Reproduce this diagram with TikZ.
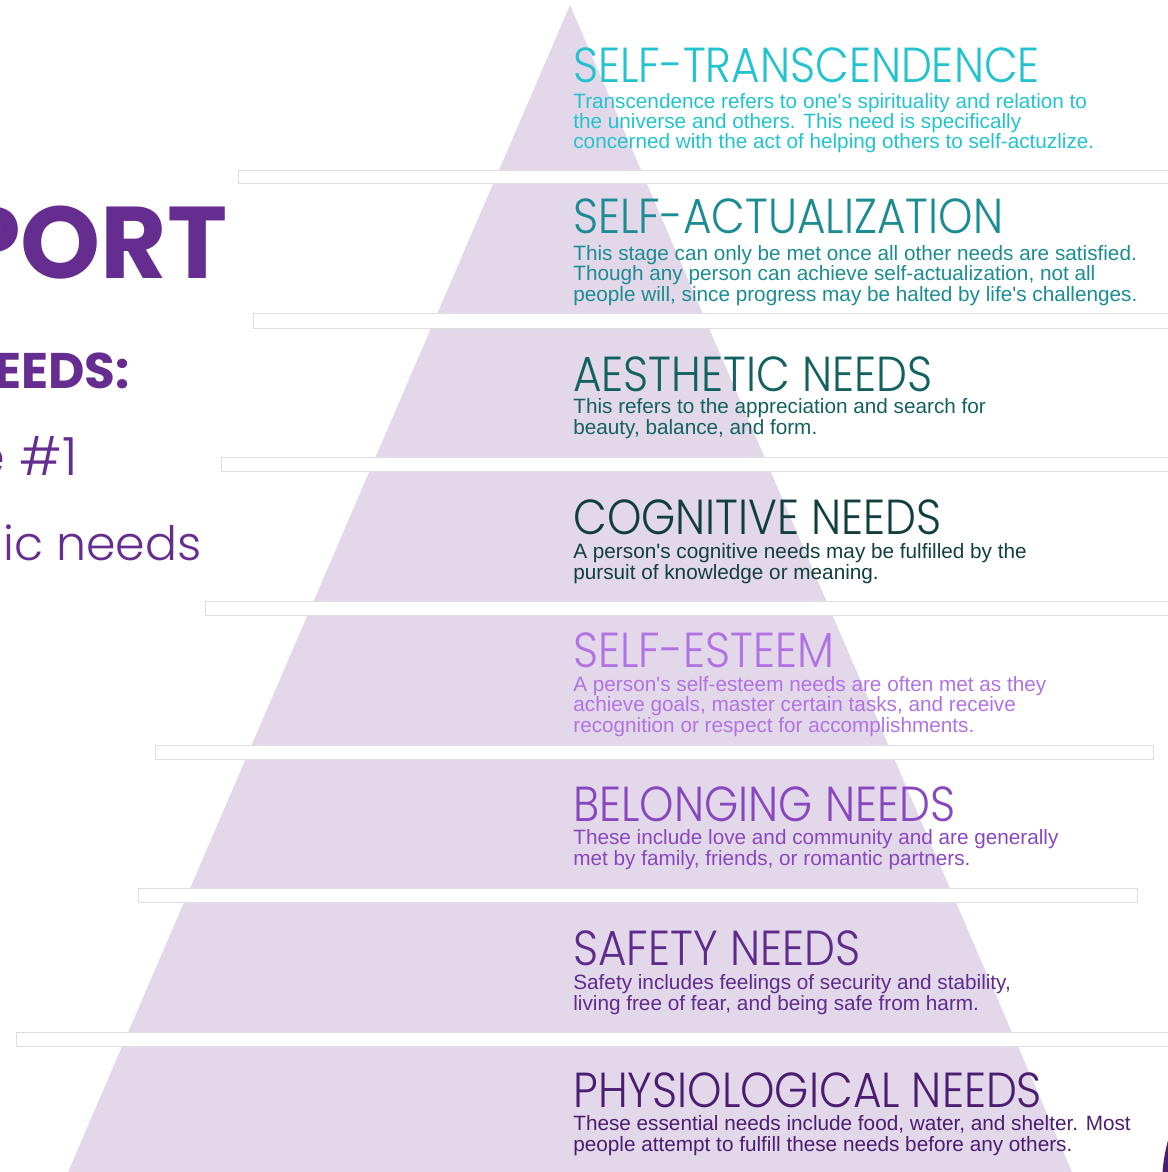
\documentclass[tikz,border=0pt]{standalone}
\usepackage{fontspec}
\setmainfont{Liberation Sans}
\newfontfamily\headfont[FakeStretch=0.89]{Poppins Light}
\newfontfamily\brandfont{Poppins}
\newfontfamily\brandlight{Poppins Light}
\definecolor{lilac}{HTML}{E3D8EA}
\definecolor{brandpurple}{HTML}{652D90}
\definecolor{transc}{HTML}{22C3CE}
\definecolor{actual}{HTML}{1B8C91}
\definecolor{aesth}{HTML}{13615F}
\definecolor{cognit}{HTML}{123E3E}
\definecolor{esteem}{HTML}{B172E3}
\definecolor{belong}{HTML}{8947BF}
\definecolor{safety}{HTML}{5E2B8C}
\definecolor{physio}{HTML}{4B1D70}
\tikzset{%
	gap/.style      = {draw=black!13, fill=white, line width=0.5pt}, % white band between layers
	needhead/.style = {anchor=base west, inner sep=0pt, text depth=0pt, font=\headfont\fontsize{28}{28}\selectfont},
	needtext/.style = {anchor=base west, inner sep=0pt, align=left, font=\fontsize{11.8}{11.6}\selectfont}, % anchored at last line
	brand/.style    = {anchor=base east, inner sep=0pt, text=brandpurple},
}

\begin{document}
\begin{tikzpicture}[x=0.02cm,y=-0.02cm]
	\useasboundingbox (0,0) rectangle (1167,1172);
	% pyramid and the bands that cut it
	\fill [lilac] (570,5) -- (1072,1172) -- (68,1172) -- cycle;
	\draw [gap] (238,170) rectangle (1170,183);
	\draw [gap] (253,313) rectangle (1170,328);
	\draw [gap] (221,457) rectangle (1170,471);
	\draw [gap] (205,601) rectangle (1170,615);
	\draw [gap] (155,745) rectangle (1153,759);
	\draw [gap] (138,888) rectangle (1137,902);
	\draw [gap] (16,1032) rectangle (1170,1046);
	\fill [physio] (1330,1185) circle (168);

	% left title
	\node [brand, font=\brandfont\bfseries\fontsize{58}{58}\selectfont] (title) at (228,278) {PORT};
	\node [brand, font=\brandfont\bfseries\fontsize{28.5}{28.5}\selectfont] (needs) at (130,388) {EEDS:};
	\node [brand, font=\brandlight\fontsize{30}{30}\selectfont] (rule) at (78,475) {e \#1};
	\node [brand, font=\brandlight\fontsize{27}{27}\selectfont] (basic) at (202,560) {ic needs};

	% layers
	\node [needhead, text=transc] (h1) at (573,83) {SELF-TRANSCENDENCE};
	\node [needtext, text=transc] (t1) at (573,149) {Transcendence refers to one\textquotesingle s spirituality and relation to\\the universe and others. This need is specifically\\concerned with the act of helping others to self-actuzlize.};

	\node [needhead, text=actual] (h2) at (573,234) {SELF-ACTUALIZATION};
	\node [needtext, text=actual] (t2) at (573,301) {This stage can only be met once all other needs are satisfied.\\Though any person can achieve self-actualization, not all\\people will, since progress may be halted by life\textquotesingle s challenges.};

	\node [needhead, text=aesth] (h3) at (573,391) {AESTHETIC NEEDS};
	\node [needtext, text=aesth] (t3) at (573,434) {This refers to the appreciation and search for\\beauty, balance, and form.};

	\node [needhead, text=cognit] (h4) at (573,534) {COGNITIVE NEEDS};
	\node [needtext, text=cognit] (t4) at (573,579) {A person\textquotesingle s cognitive needs may be fulfilled by the\\pursuit of knowledge or meaning.};

	\node [needhead, text=esteem] (h5) at (573,667) {SELF-ESTEEM};
	\node [needtext, text=esteem] (t5) at (573,732) {A person\textquotesingle s self-esteem needs are often met as they\\achieve goals, master certain tasks, and receive\\recognition or respect for accomplishments.};

	\node [needhead, text=belong] (h6) at (573,821) {BELONGING NEEDS};
	\node [needtext, text=belong] (t6) at (573,865) {These include love and community and are generally\\met by family, friends, or romantic partners.};

	\node [needhead, text=safety] (h7) at (573,965) {SAFETY NEEDS};
	\node [needtext, text=safety] (t7) at (573,1010) {Safety includes feelings of security and stability,\\living free of fear, and being safe from harm.};

	\node [needhead, text=physio] (h8) at (573,1107) {PHYSIOLOGICAL NEEDS};
	\node [needtext, text=physio] (t8) at (573,1151) {These essential needs include food, water, and shelter. Most\\people attempt to fulfill these needs before any others.};
\end{tikzpicture}
\end{document}
